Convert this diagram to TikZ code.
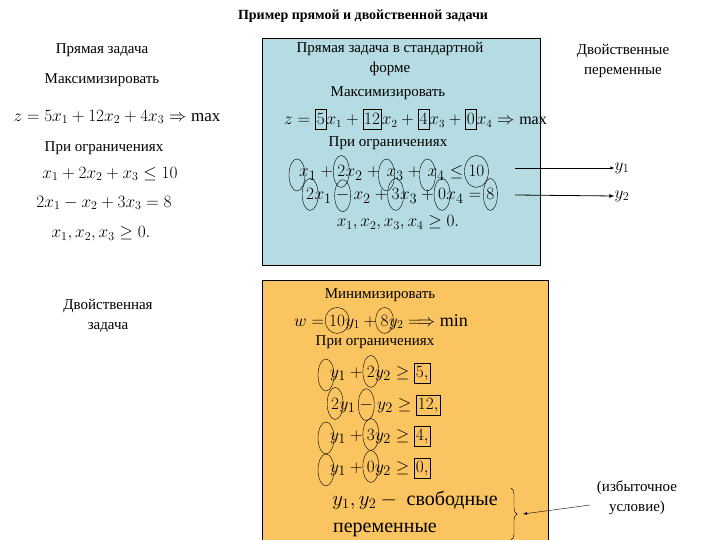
\documentclass[tikz,border=0pt]{standalone}
\usepackage{fontspec}
\setmainfont{Liberation Serif}
\usetikzlibrary{decorations.pathreplacing,shapes.geometric}
\definecolor{bluebg}{RGB}{180,220,226}
\definecolor{orbg}{RGB}{250,196,96}
\tikzset{
  txt/.style={font=\fontsize{15}{17}\selectfont, align=center, inner sep=0},
  eq/.style={font=\fontsize{17}{20}\selectfont, inner sep=0},
  pc/.style={inner sep=0, anchor=base west},
  ell/.style={draw, ellipse, minimum width=#1, minimum height=32pt, inner sep=0},
  ell/.default=16pt,
  bxp/.style={draw, inner sep=1.5pt, minimum height=20pt}
}
\newcommand\pc[4][]{\node[pc,#1] (#2) at (#3.base east) {$#4$};}
\begin{document}
\begin{tikzpicture}[x=1pt,y=-1pt]
\useasboundingbox (0,0) rectangle (720,540);
\fill[white] (0,0) rectangle (720,540);
% boxes
\node[draw, fill=bluebg, minimum width=278pt, minimum height=227pt, anchor=north west, inner sep=0] (bb) at (262,38) {};
\node[draw, fill=orbg, minimum width=286pt, minimum height=265pt, anchor=north west, inner sep=0] (ob) at (262,280) {};
% title
\node[txt, font=\bfseries\fontsize{14}{16}\selectfont] (title) at (363,16) {Пример прямой и двойственной задачи};
% left
\node[txt] (l1) at (102,50) {Прямая задача};
\node[txt] (l2) at (102,80) {Максимизировать};
\node[eq] (l3) at (117,117) {$z=5x_1+12x_2+4x_3\Rightarrow \max$};
\node[txt] (l4) at (104,148) {При ограничениях};
\node[eq] (l5) at (110,174) {$x_1+2x_2+x_3\le 10$};
\node[eq] (l6) at (104,203) {$2x_1-x_2+3x_3=8$};
\node[eq] (l7) at (101,234) {$x_1,x_2,x_3\ge 0.$};
\node[txt] (l8) at (108,316) {Двойственная\\[3pt]задача};
% right header
\node[txt] (r1) at (623,61) {Двойственные\\[3pt]переменные};
\node[eq] (y1) at (622,168) {$y_1$};
\node[eq] (y2) at (622,196) {$y_2$};
% blue contents
\node[txt] (b1) at (390,59) {Прямая задача в стандартной\\[3pt]форме};
\node[txt] (b2) at (388,93) {Максимизировать};
\begin{scope}[every node/.append style={font=\fontsize{16}{19}\selectfont}]
\coordinate (z0) at (284,125);
\pc{z1}{z0}{z={}}
\pc[bxp]{z2}{z1}{5}
\pc{z3}{z2}{x_1+{}}
\pc[bxp]{z4}{z3}{12}
\pc{z5}{z4}{x_2+{}}
\pc[bxp]{z6}{z5}{4}
\pc{z7}{z6}{x_3+{}}
\pc[bxp]{z8}{z7}{0}
\pc{z9}{z8}{x_4\Rightarrow\max}
\end{scope}
\node[txt] (b4) at (388,143) {При ограничениях};
\begin{scope}[every node/.append style={font=\fontsize{19}{22}\selectfont}]
\coordinate (p0) at (299,177);
\pc{p1}{p0}{x_1}
\pc{p2}{p1}{{}+{}}
\pc{p3}{p2}{2}
\pc{p4}{p3}{x_2}
\pc{p5}{p4}{{}+{}}
\pc{p6}{p5}{\,x_3}
\pc{p7}{p6}{{}+{}}
\pc{p8}{p7}{\,x_4}
\pc{p9}{p8}{{}\le{}}
\pc{p10}{p9}{10}
\coordinate (q0) at (306,200);
\pc{q1}{q0}{2}
\pc{q2}{q1}{x_1}
\pc{q3}{q2}{{}-{}}
\pc{q4}{q3}{x_2}
\pc{q5}{q4}{{}+{}}
\pc{q6}{q5}{3}
\pc{q7}{q6}{x_3}
\pc{q8}{q7}{{}+{}}
\pc{q9}{q8}{0}
\pc{q10}{q9}{x_4}
\pc{q11}{q10}{{}={}}
\pc{q12}{q11}{8}
\end{scope}
\node[ell] at ([xshift=-2pt]p1.west) {};
\node[ell] at (p3) {};
\node[ell] at ([xshift=3pt]p6.west) {};
\node[ell] at ([xshift=3pt]p8.west) {};
\node[ell=24pt] at (p10) {};
\node[ell] at (q1) {};
\node[ell] at (q3) {};
\node[ell] at (q6) {};
\node[ell] at (q9) {};
\node[ell=14pt] at (q12) {};
\node[eq,font=\fontsize{18}{21}\selectfont] (b7) at (398,223) {$x_1,x_2,x_3,x_4\ge 0.$};
% arrows
\draw[-latex, thin] (515,168) -- (y1.west);
\draw[-latex, thick] (515,195) -- (y2.west);
% orange contents
\node[txt] (o1) at (380,295) {Минимизировать};
\begin{scope}[every node/.append style={font=\fontsize{18}{21}\selectfont}]
\coordinate (w0) at (294,326);
\pc{w1}{w0}{w={}}
\pc{w2}{w1}{10}
\pc{w3}{w2}{y_1+{}}
\pc{w4}{w3}{8}
\pc{w5}{w4}{y_2\Longrightarrow\min}
\end{scope}
\node[ell=24pt,minimum height=26pt] at (w2) {};
\node[ell=18pt,minimum height=26pt] at (w4) {};
\node[txt] (o3) at (375,342) {При ограничениях};
\begin{scope}[every node/.append style={font=\fontsize{19}{22}\selectfont}]
\coordinate (a0) at (330,377);
\pc{a1}{a0}{y_1}
\pc{a2}{a1}{{}+{}}
\pc{a3}{a2}{2}
\pc{a4}{a3}{y_2\ge{}}
\pc[bxp]{a5}{a4}{5,}
\coordinate (c0) at (331,409);
\pc{c1}{c0}{2}
\pc{c2}{c1}{y_1}
\pc{c3}{c2}{{}-{}}
\pc{c4}{c3}{y_2\ge{}}
\pc[bxp]{c5}{c4}{12,}
\coordinate (d0) at (330,440);
\pc{d1}{d0}{y_1}
\pc{d2}{d1}{{}+{}}
\pc{d3}{d2}{3}
\pc{d4}{d3}{y_2\ge{}}
\pc[bxp]{d5}{d4}{4,}
\coordinate (e0) at (330,472);
\pc{e1}{e0}{y_1}
\pc{e2}{e1}{{}+{}}
\pc{e3}{e2}{0}
\pc{e4}{e3}{y_2\ge{}}
\pc[bxp]{e5}{e4}{0,}
\end{scope}
\node[ell] at ([xshift=-4pt]a1.west) {};
\node[ell] at (a3) {};
\node[ell] at (c1) {};
\node[ell] at (c3) {};
\node[ell] at ([xshift=-4pt]d1.west) {};
\node[ell] at (d3) {};
\node[ell] at ([xshift=-4pt]e1.west) {};
\node[ell] at (e3) {};
\node[eq,font=\fontsize{20}{23}\selectfont] (o8) at (415,500) {$y_1,y_2-{}$ свободные};
\node[eq,font=\fontsize{20}{23}\selectfont] (o9) at (385,530) {переменные};
\draw[decorate, decoration={brace, amplitude=6pt}] (511,488) -- (511,540);
\coordinate (bt) at (523,514);
\node[txt] (note) at (637,498) {(избыточное\\[3pt]условие)};
\draw[-latex] (590,505) -- (bt);
\end{tikzpicture}
\end{document}
